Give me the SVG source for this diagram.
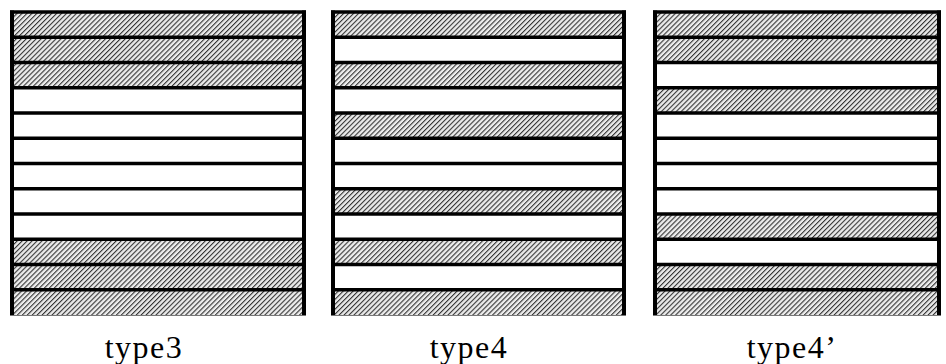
<svg xmlns="http://www.w3.org/2000/svg" width="946" height="364" viewBox="0 0 946 364">
<defs>
<pattern id="hatch" width="3.5" height="3.5" patternUnits="userSpaceOnUse" patternTransform="rotate(45)">
<rect width="3.5" height="3.5" fill="#ececec"/>
<rect width="1.1" height="3.5" fill="#333"/>
</pattern>
</defs>
<style>
.h{fill:url(#hatch)}
.w{fill:#fff}
.sep{stroke:#000;stroke-width:3.5}
.side{stroke:#000;stroke-width:4}
.bot{stroke:#777;stroke-width:1}
.lbl{font-family:"Liberation Serif","DejaVu Serif",serif;font-size:32px;letter-spacing:1.5px;fill:#000;text-anchor:middle}
</style>
<g id="type3">
<rect class="h" x="12" y="12" width="292" height="75.75"/>
<rect class="w" x="12" y="87.75" width="292" height="151.5"/>
<rect class="h" x="12" y="239.25" width="292" height="75.75"/>
<g class="sep">
<line x1="10" y1="12" x2="306" y2="12"/>
<line x1="10" y1="37.25" x2="306" y2="37.25"/>
<line x1="10" y1="62.5" x2="306" y2="62.5"/>
<line x1="10" y1="87.75" x2="306" y2="87.75"/>
<line x1="10" y1="113" x2="306" y2="113"/>
<line x1="10" y1="138.25" x2="306" y2="138.25"/>
<line x1="10" y1="163.5" x2="306" y2="163.5"/>
<line x1="10" y1="188.75" x2="306" y2="188.75"/>
<line x1="10" y1="214" x2="306" y2="214"/>
<line x1="10" y1="239.25" x2="306" y2="239.25"/>
<line x1="10" y1="264.5" x2="306" y2="264.5"/>
<line x1="10" y1="289.75" x2="306" y2="289.75"/>
</g>
<line class="side" x1="12" y1="10.5" x2="12" y2="315.5"/>
<line class="side" x1="304" y1="10.5" x2="304" y2="315.5"/>
<line class="bot" x1="10" y1="315.5" x2="306" y2="315.5"/>
<text class="lbl" x="144" y="358">type3</text>
</g>
<g id="type4">
<rect class="h" x="333" y="12" width="291" height="25.25"/>
<rect class="w" x="333" y="37.25" width="291" height="25.25"/>
<rect class="h" x="333" y="62.5" width="291" height="25.25"/>
<rect class="w" x="333" y="87.75" width="291" height="25.25"/>
<rect class="h" x="333" y="113" width="291" height="25.25"/>
<rect class="w" x="333" y="138.25" width="291" height="50.5"/>
<rect class="h" x="333" y="188.75" width="291" height="25.25"/>
<rect class="w" x="333" y="214" width="291" height="25.25"/>
<rect class="h" x="333" y="239.25" width="291" height="25.25"/>
<rect class="w" x="333" y="264.5" width="291" height="25.25"/>
<rect class="h" x="333" y="289.75" width="291" height="25.25"/>
<g class="sep">
<line x1="331" y1="12" x2="626" y2="12"/>
<line x1="331" y1="37.25" x2="626" y2="37.25"/>
<line x1="331" y1="62.5" x2="626" y2="62.5"/>
<line x1="331" y1="87.75" x2="626" y2="87.75"/>
<line x1="331" y1="113" x2="626" y2="113"/>
<line x1="331" y1="138.25" x2="626" y2="138.25"/>
<line x1="331" y1="163.5" x2="626" y2="163.5"/>
<line x1="331" y1="188.75" x2="626" y2="188.75"/>
<line x1="331" y1="214" x2="626" y2="214"/>
<line x1="331" y1="239.25" x2="626" y2="239.25"/>
<line x1="331" y1="264.5" x2="626" y2="264.5"/>
<line x1="331" y1="289.75" x2="626" y2="289.75"/>
</g>
<line class="side" x1="333" y1="10.5" x2="333" y2="315.5"/>
<line class="side" x1="624" y1="10.5" x2="624" y2="315.5"/>
<line class="bot" x1="331" y1="315.5" x2="626" y2="315.5"/>
<text class="lbl" x="469" y="358">type4</text>
</g>
<g id="type4p">
<rect class="h" x="655" y="12" width="284" height="50.5"/>
<rect class="w" x="655" y="62.5" width="284" height="25.25"/>
<rect class="h" x="655" y="87.75" width="284" height="25.25"/>
<rect class="w" x="655" y="113" width="284" height="101"/>
<rect class="h" x="655" y="214" width="284" height="25.25"/>
<rect class="w" x="655" y="239.25" width="284" height="25.25"/>
<rect class="h" x="655" y="264.5" width="284" height="50.5"/>
<g class="sep">
<line x1="653" y1="12" x2="941" y2="12"/>
<line x1="653" y1="37.25" x2="941" y2="37.25"/>
<line x1="653" y1="62.5" x2="941" y2="62.5"/>
<line x1="653" y1="87.75" x2="941" y2="87.75"/>
<line x1="653" y1="113" x2="941" y2="113"/>
<line x1="653" y1="138.25" x2="941" y2="138.25"/>
<line x1="653" y1="163.5" x2="941" y2="163.5"/>
<line x1="653" y1="188.75" x2="941" y2="188.75"/>
<line x1="653" y1="214" x2="941" y2="214"/>
<line x1="653" y1="239.25" x2="941" y2="239.25"/>
<line x1="653" y1="264.5" x2="941" y2="264.5"/>
<line x1="653" y1="289.75" x2="941" y2="289.75"/>
</g>
<line class="side" x1="655" y1="10.5" x2="655" y2="315.5"/>
<line class="side" x1="939" y1="10.5" x2="939" y2="315.5"/>
<line class="bot" x1="653" y1="315.5" x2="941" y2="315.5"/>
<text class="lbl" x="792" y="358">type4’</text>
</g>
</svg>
